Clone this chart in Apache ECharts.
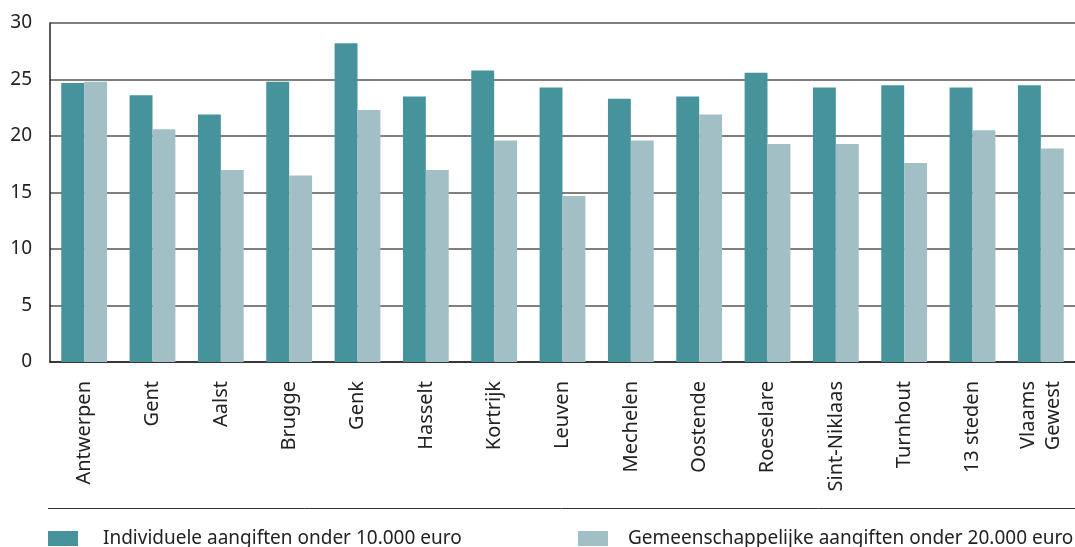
<!DOCTYPE html>
<html>
<head>
<meta charset="utf-8">
<script src="https://cdn.jsdelivr.net/npm/echarts@6/dist/echarts.min.js"></script>
<style>
  html, body { margin: 0; padding: 0; background: #fff; }
  #chart { width: 1075px; height: 547px; }
</style>
</head>
<body>
<div id="chart"></div>
<script>
// categories and values
const cities = ['Antwerpen', 'Gent', 'Aalst', 'Brugge', 'Genk', 'Hasselt', 'Kortrijk', 'Leuven',
  'Mechelen', 'Oostende', 'Roeselare', 'Sint-Niklaas', 'Turnhout', '13 steden', 'Vlaams\nGewest'];
const individual = [24.7, 23.6, 21.9, 24.8, 28.2, 23.5, 25.8, 24.3, 23.3, 23.5, 25.6, 24.3, 24.5, 24.3, 24.5];
const joint = [24.8, 20.6, 17.0, 16.5, 22.3, 17.0, 19.6, 14.7, 19.6, 21.9, 19.3, 19.3, 17.6, 20.5, 18.9];
const seriesNames = ['Individuele aangiften onder 10.000 euro', 'Gemeenschappelijke aangiften onder 20.000 euro'];

const FONT = 'Noto Sans';
const chart = echarts.init(document.getElementById('chart'));

function legendAt(left, name, gap) {
  return {
    left: left,
    top: 529,
    data: [name],
    icon: 'rect',
    itemWidth: 30,
    itemHeight: 15,
    padding: 0,
    textStyle: { fontFamily: FONT, fontSize: 19, color: '#222', padding: [0, 0, 0, gap] }
  };
}

chart.setOption({
  animation: false,
  color: ['#46939c', '#a3bfc6'],
  grid: { left: 50, right: -9, top: 23, bottom: 185 },
  legend: [
    legendAt(48, seriesNames[0], 20),
    legendAt(578, seriesNames[1], 15)
  ],
  graphic: [{
    type: 'line',
    shape: { x1: 48, y1: 508.5, x2: 1075, y2: 508.5 },
    style: { stroke: '#333', lineWidth: 1 }
  }],
  xAxis: {
    type: 'category',
    data: cities,
    axisLine: { lineStyle: { color: '#222', width: 1.5 } },
    axisTick: { inside: true, length: 10, lineStyle: { color: '#333', width: 1.5 } },
    axisLabel: {
      rotate: 90, margin: 19, interval: 0,
      fontFamily: FONT, fontSize: 20, color: '#222', lineHeight: 25
    }
  },
  yAxis: {
    type: 'value',
    min: 0, max: 30, interval: 5,
    axisLine: { show: true, lineStyle: { color: '#222', width: 1.5 } },
    axisTick: { show: false },
    splitLine: { lineStyle: { color: '#555', width: 1.5 } },
    axisLabel: { fontFamily: FONT, fontSize: 19, color: '#222', margin: 18 }
  },
  series: [
    { name: seriesNames[0], type: 'bar', data: individual, barGap: '0%', barCategoryGap: '33%' },
    { name: seriesNames[1], type: 'bar', data: joint, barGap: '0%', barCategoryGap: '33%' }
  ]
});
</script>
</body>
</html>
